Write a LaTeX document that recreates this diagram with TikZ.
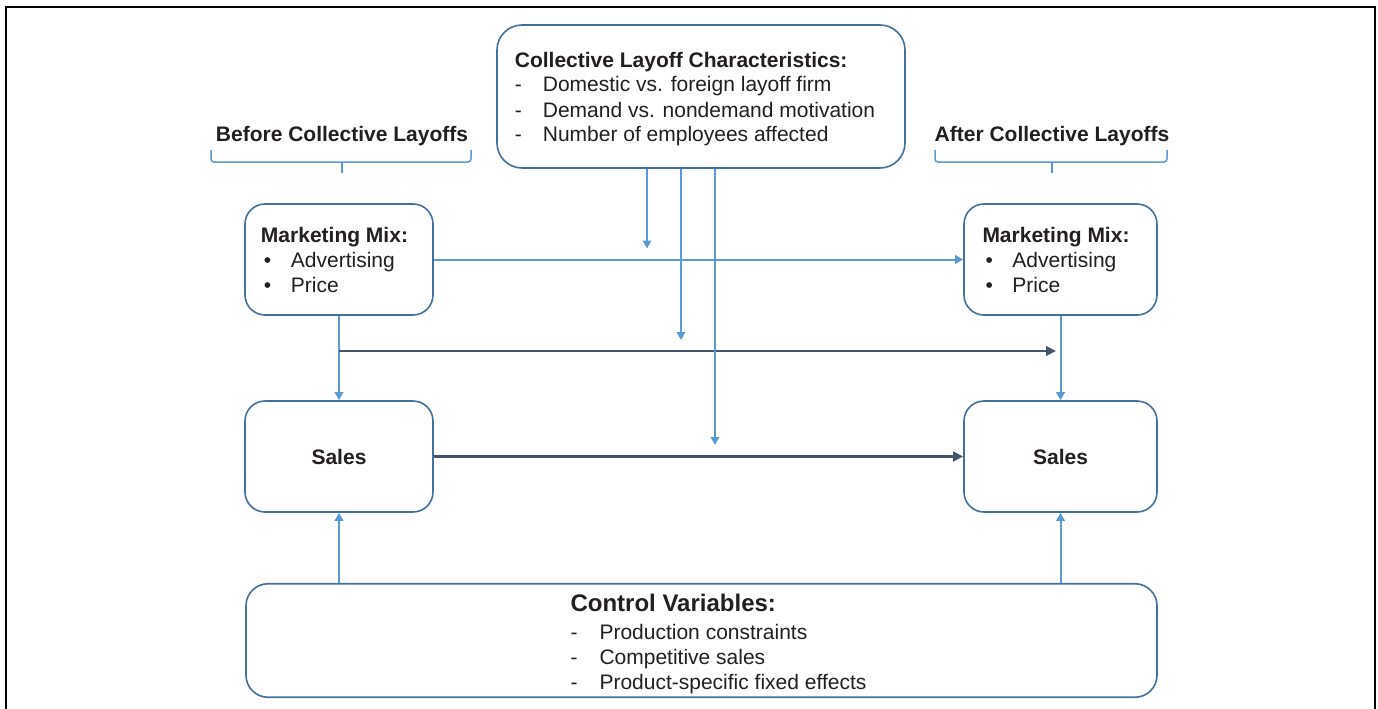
\documentclass[tikz,border=0pt]{standalone}
\usepackage{fontspec}
\setmainfont{Liberation Sans}
\usetikzlibrary{arrows.meta,calc}
\definecolor{boxc}{RGB}{65,113,156}
\definecolor{bluec}{RGB}{91,155,213}
\definecolor{darkc}{RGB}{68,84,106}
\definecolor{txt}{RGB}{35,31,32}
\newcommand\mixtext{\hspace*{-9pt}\begin{tabular}{@{}p{30pt}@{}l@{}}\multicolumn{2}{@{}l@{}}{\rule{0pt}{23.5pt}\bfseries Marketing Mix:}\\ \hspace*{3pt}\textbullet & Advertising\\ \hspace*{3pt}\textbullet & Price\end{tabular}}
\begin{document}
\begin{tikzpicture}[x=1pt,y=-1pt,
  box/.style={draw=boxc, line width=1.6pt, rounded corners=20pt, fill=white, text=txt, inner sep=0pt, align=left, font=\fontsize{21}{25}\selectfont},
  lbl/.style={text=txt, inner sep=0pt, font=\fontsize{21}{25}\selectfont\bfseries},
  conn/.style={draw=bluec, line width=2pt, -{Triangle[width=8.5pt,length=8pt]}},
  dconn/.style={draw=darkc, line width=2.8pt, -{Triangle[width=9.5pt,length=10pt]}},
  bracec/.style={draw=bluec, line width=1.5pt, rounded corners=3pt}]
\useasboundingbox (0,0) rectangle (1378,709);
% frame
\draw[line width=2.3pt] (6,730) -- (6,7) -- (1375,7) -- (1375,730);
% nodes
\node[box, rounded corners=25pt, minimum width=408pt, minimum height=143pt] (clc) at (701,96.5)
 {\hspace*{-12pt}\begin{tabular}{@{}p{28pt}@{}l@{}}\multicolumn{2}{@{}l@{}}{\rule{0pt}{23.5pt}\bfseries Collective Layoff Characteristics:}\\
 - & Domestic vs. foreign layoff firm\\
 - & Demand vs. nondemand motivation\\
 - & Number of employees affected\end{tabular}};
\node[lbl] (before) at (342,136.5) {Before Collective Layoffs};
\node[lbl] (after) at (1052,136.5) {After Collective Layoffs};
\node[box, minimum width=188pt, minimum height=111pt] (mmL) at (339,259.5) {\mixtext};
\node[box, minimum width=193pt, minimum height=111pt] (mmR) at (1060.5,259.5) {\mixtext};
\node[box, minimum width=188pt, minimum height=111pt, font=\fontsize{21}{25}\selectfont\bfseries] (salesL) at (339,456.5) {Sales};
\node[box, minimum width=193pt, minimum height=111pt, font=\fontsize{21}{25}\selectfont\bfseries] (salesR) at (1060.5,456.5) {Sales};
\node[box, rounded corners=22pt, minimum width=911pt, minimum height=113pt] (ctrl) at (701.5,640.5)
 {\hspace*{34pt}\begin{tabular}{@{}p{29pt}@{}l@{}}\multicolumn{2}{@{}l@{}}{\rule{0pt}{28pt}\fontsize{24}{28}\selectfont\bfseries Control Variables:}\\[3pt]
 - & Production constraints\\
 - & Competitive sales\\
 - & Product-specific fixed effects\end{tabular}};
% braces
\draw[bracec] (211,150) -- (211,162) -- (471,162) -- (471,150);
\draw[bracec] (before.south |- 0,162) -- (before.south |- 0,173);
\draw[bracec] (935,150) -- (935,162) -- (1167,162) -- (1167,150);
\draw[bracec] (after.south |- 0,162) -- (after.south |- 0,173);
% free-end coordinates
\coordinate (m1) at (647,248.5);
\coordinate (m2) at (681,340);
\coordinate (m3) at (715,445);
\coordinate (jL) at (339,351);
\coordinate (jR) at (1056,351);
% connectors
\draw[conn] (mmL.east) -- (mmR.west);
\draw[conn] (mmL.south) -- (salesL.north);
\draw[conn] (mmR.south) -- (salesR.north);
\draw[conn] (ctrl.north -| salesL.south) -- (salesL.south);
\draw[conn] (ctrl.north -| salesR.south) -- (salesR.south);
\draw[dconn] (jL) -- (jR);
\draw[dconn] (salesL.east) -- (salesR.west);
\draw[conn] (clc.south -| m1) -- (m1);
\draw[conn] (clc.south -| m2) -- (m2);
\draw[conn] (clc.south -| m3) -- (m3);
\end{tikzpicture}
\end{document}
